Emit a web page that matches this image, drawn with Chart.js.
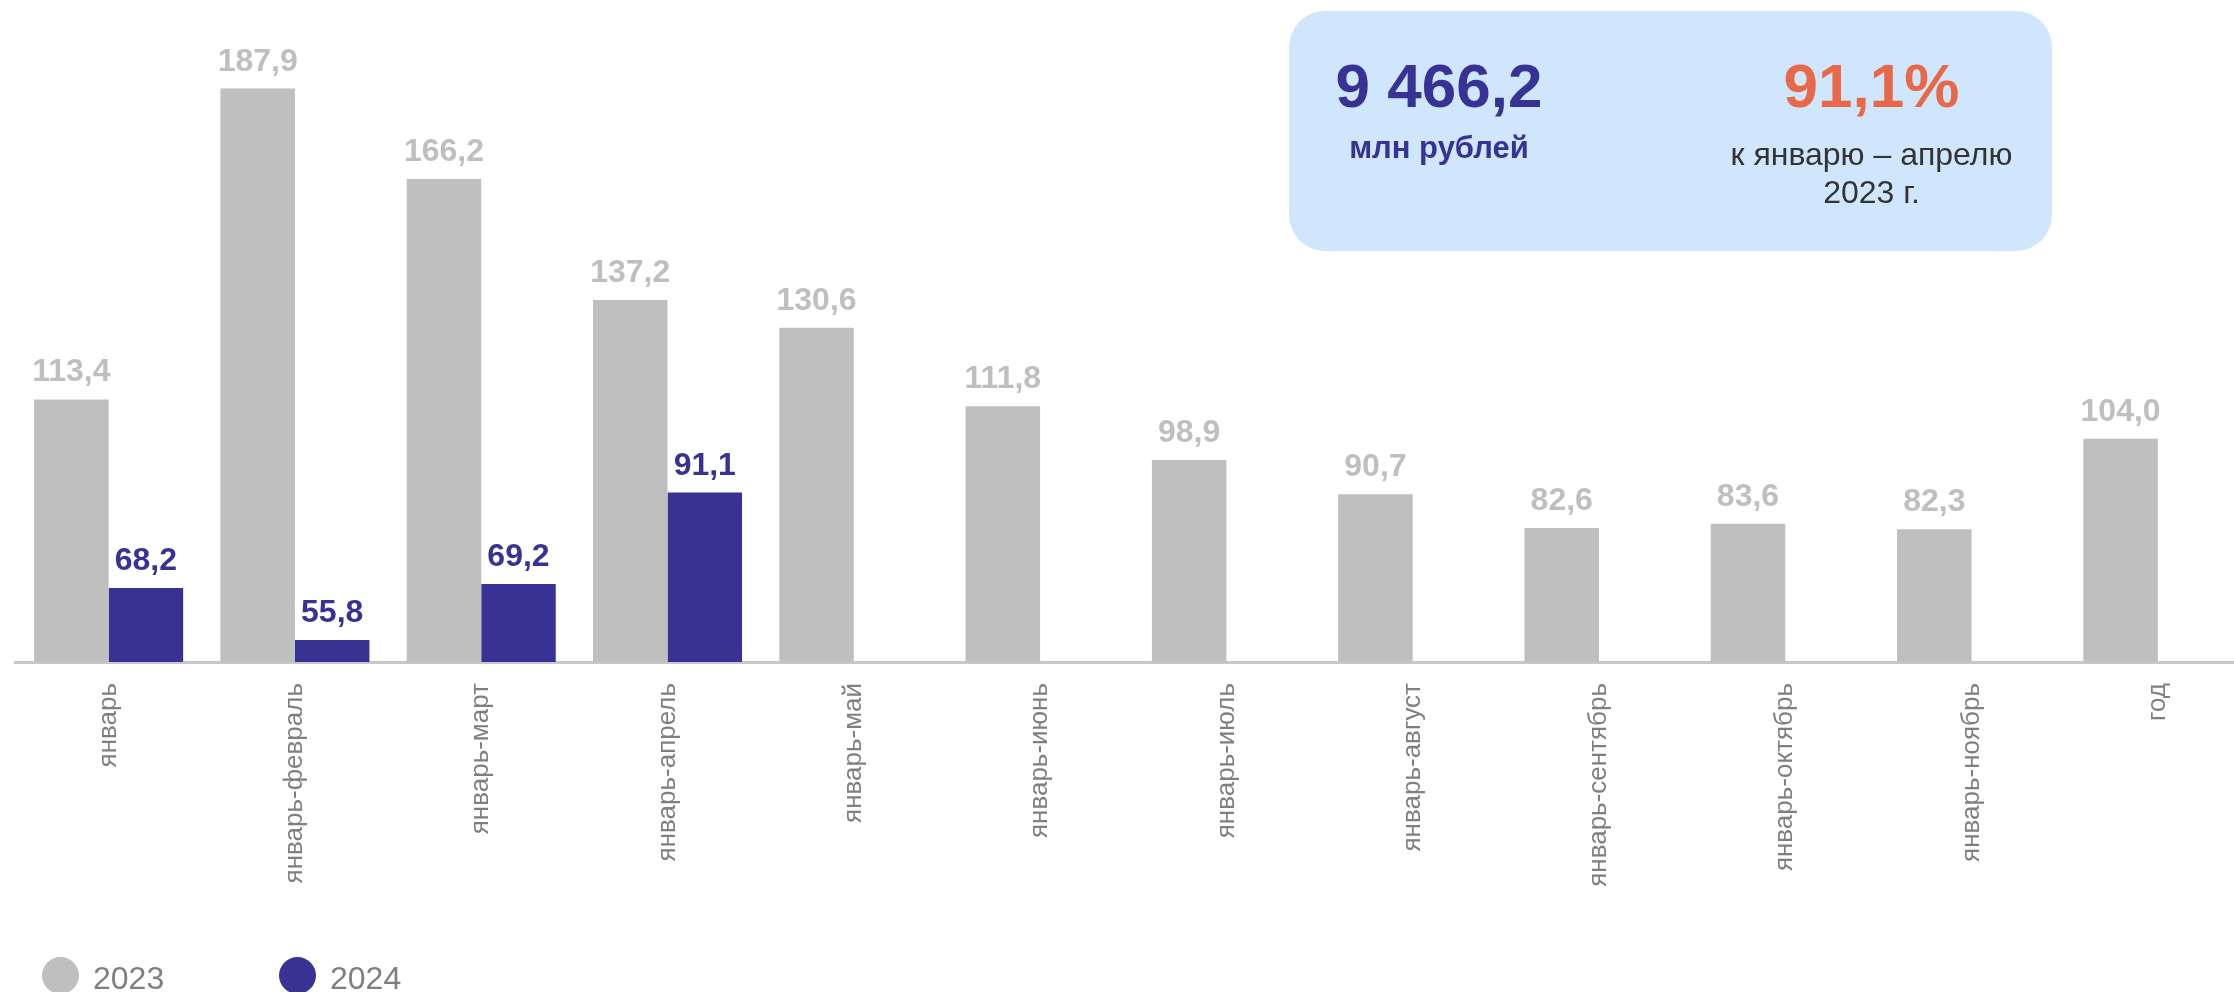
<!DOCTYPE html>
<html lang="ru">
<head>
<meta charset="utf-8">
<script src="https://cdn.jsdelivr.net/npm/chart.js@4"></script>
<style>
  html, body { margin: 0; padding: 0; background: #fff; overflow: hidden; }
  #wrap { position: relative; width: 2260px; height: 992px; }
  #info {
    position: absolute; left: 1289px; top: 11px; width: 763px; height: 240px;
    background: #D0E6FD; border-radius: 36px;
    font-family: "Liberation Sans", Arial, sans-serif;
  }
  #info .col { position: absolute; top: 0; text-align: center; }
  #info .big { font-size: 62px; font-weight: bold; line-height: 1; }
  .leg { position: absolute; top: 957px; height: 37px; font-family: "Liberation Sans", Arial, sans-serif;
         font-size: 32px; color: #7F7F7F; }
  .leg i { position: absolute; left: 0; top: 0; width: 37px; height: 37px; border-radius: 50%; }
  .leg span { position: absolute; left: 51px; top: 5px; line-height: 32px; white-space: nowrap; }
</style>
</head>
<body>
<div id="wrap">
  <canvas id="chart1"></canvas>
  <div id="info">
    <div class="col" style="left:0;width:300px;">
      <div class="big" style="color:#373294;margin-top:44px;">9 466,2</div>
      <div style="color:#373294;font-size:31px;font-weight:bold;margin-top:13px;">млн рублей</div>
    </div>
    <div class="col" style="left:430px;width:305px;">
      <div class="big" style="color:#E8694A;margin-top:44px;">91,1%</div>
      <div style="color:#333;font-size:32px;margin-top:18px;line-height:38px;">к январю – апрелю<br>2023 г.</div>
    </div>
  </div>
  <div id="legend"></div>
</div>

<script>
const categories = ['январь', 'январь-февраль', 'январь-март', 'январь-апрель', 'январь-май', 'январь-июнь',
  'январь-июль', 'январь-август', 'январь-сентябрь', 'январь-октябрь', 'январь-ноябрь', 'год'];
const values2023 = [113.4, 187.9, 166.2, 137.2, 130.6, 111.8, 98.9, 90.7, 82.6, 83.6, 82.3, 104.0];
const values2024 = [68.2, 55.8, 69.2, 91.1, null, null, null, null, null, null, null, null];

const grey = '#BFBFBF';
const navy = '#373294';

// value labels above bars
const barLabels = {
  id: 'barLabels',
  afterDatasetsDraw(chart) {
    const ctx = chart.ctx;
    ctx.save();
    ctx.font = 'bold 32px "Liberation Sans", Arial, sans-serif';
    ctx.textAlign = 'center';
    ctx.textBaseline = 'alphabetic';
    chart.data.datasets.forEach((ds, i) => {
      const meta = chart.getDatasetMeta(i);
      ctx.fillStyle = ds.labelColor;
      meta.data.forEach((bar, j) => {
        const v = ds.data[j];
        if (v == null) return;
        ctx.fillText(v.toFixed(1).replace('.', ','), bar.x, bar.y - 18);
      });
    });
    ctx.restore();
  }
};

const chart = new Chart(document.getElementById('chart1'), {
  type: 'bar',
  data: {
    labels: categories,
    datasets: [
      { label: '2023', data: values2023, backgroundColor: grey, labelColor: '#BFBFBF' },
      { label: '2024', data: values2024, backgroundColor: navy, labelColor: navy }
    ]
  },
  options: {
    responsive: true,
    maintainAspectRatio: false,
    animation: false,
    categoryPercentage: 0.8,
    barPercentage: 1.0,
    layout: { padding: { top: 38, left: 15.5, right: 9, bottom: 0 } },
    scales: {
      y: { display: false, min: 50.5, max: 200 },
      x: {
        grid: { display: false, drawTicks: false },
        border: { display: true, color: '#C8C8C8', width: 3 },
        ticks: {
          color: '#7F7F7F',
          font: { family: '"Liberation Sans", Arial, sans-serif', size: 26 },
          minRotation: 90,
          maxRotation: 90,
          padding: 21,
          autoSkip: false
        },
        afterFit(scale) { scale.height = 330; }
      }
    },
    plugins: {
      tooltip: { enabled: false },
      legend: { display: false }
    }
  },
  plugins: [barLabels]
});

// legend built from the chart's datasets
const legendX = [42, 279];
const legendEl = document.getElementById('legend');
chart.data.datasets.forEach((ds, i) => {
  const item = document.createElement('div');
  item.className = 'leg';
  item.style.left = legendX[i] + 'px';
  item.innerHTML = '<i style="background:' + ds.backgroundColor + '"></i><span>' + ds.label + '</span>';
  legendEl.appendChild(item);
});
</script>
</body>
</html>
